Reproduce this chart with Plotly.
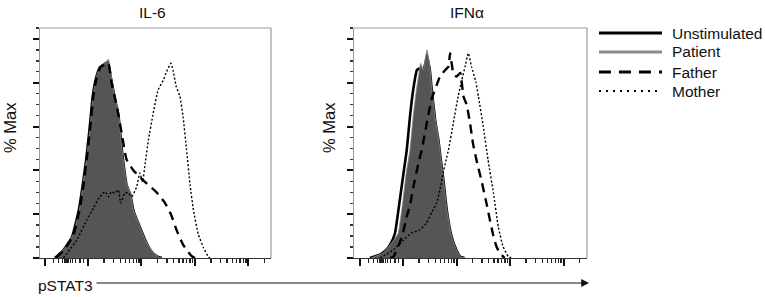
import math
import plotly.graph_objects as go

# ---------------- data (x: pSTAT3 in log10 display units, y: % Max) ----------------
il6_unstim_x = [1.38, 1.52, 1.70, 1.83, 1.90, 1.97, 2.03, 2.09, 2.15, 2.22, 2.31, 2.37, 2.43, 2.50, 2.57, 2.63, 2.72, 2.79, 2.85, 2.97, 3.10, 3.22, 3.31, 3.38]
il6_unstim_y = [0, 3.0, 9.5, 22, 33, 45.5, 59, 74, 82, 87, 88.5, 89.5, 82, 73, 65, 50, 33.5, 29, 21.5, 14, 6.5, 2, 0.5, 0]

il6_patient_x = [1.38, 1.54, 1.72, 1.85, 1.91, 1.98, 2.04, 2.10, 2.16, 2.22, 2.32, 2.38, 2.44, 2.50, 2.57, 2.63, 2.72, 2.79, 2.85, 2.97, 3.10, 3.22, 3.31, 3.38]
il6_patient_y = [0, 3.7, 10.5, 23.4, 34.2, 46.3, 60, 75.2, 82.8, 87.4, 88.9, 90.7, 82.8, 73.7, 66.2, 50.8, 34.2, 29.7, 21.9, 14.3, 6.8, 2.3, 0.6, 0]

il6_father_x = [1.40, 1.55, 1.73, 1.85, 1.92, 1.98, 2.04, 2.10, 2.16, 2.23, 2.32, 2.38, 2.44, 2.54, 2.63, 2.72, 2.85, 2.97, 3.10, 3.28, 3.43, 3.55, 3.66, 3.78, 3.85, 3.94, 4.00]
il6_father_y = [0, 3.5, 10.5, 23, 34, 46, 59, 74, 82, 87, 88.5, 89, 80, 69, 57, 45, 40, 37, 34, 30, 25.5, 20, 12.5, 6, 3.5, 0.8, 0]

il6_mother_x = [1.54, 1.79, 1.98, 2.10, 2.22, 2.32, 2.38, 2.44, 2.50, 2.57, 2.61, 2.69, 2.75, 2.82, 2.91, 2.97, 3.02, 3.07, 3.13, 3.22, 3.31, 3.41, 3.47, 3.55, 3.59, 3.65, 3.72, 3.78, 3.84, 3.91, 3.97, 4.06, 4.16, 4.25, 4.28]
il6_mother_y = [0, 8.2, 17.4, 22.8, 27.9, 30.3, 28, 30.3, 29.7, 31.1, 25.1, 29.7, 29.7, 28, 32.6, 38.8, 34.8, 43.4, 53.9, 66.2, 76.7, 81.3, 85.1, 88.9, 85.8, 78.2, 73.7, 64, 50, 33, 22, 11, 4.6, 0.6, 0]

ifn_unstim_x = [1.38, 1.57, 1.70, 1.78, 1.85, 1.94, 2.01, 2.07, 2.13, 2.19, 2.26, 2.30, 2.36, 2.41, 2.45, 2.50, 2.54, 2.60, 2.66, 2.69, 2.75, 2.82, 2.91, 3.00, 3.07, 3.15]
ifn_unstim_y = [0, 1.5, 4, 7, 11.3, 26.5, 38.8, 49.3, 64.5, 76.7, 85.8, 86.5, 84, 88, 92, 86, 76, 63, 54, 48, 36.5, 21.5, 9.5, 3.5, 0.5, 0]

ifn_patient_x = [1.40, 1.63, 1.76, 1.85, 1.91, 2.00, 2.06, 2.13, 2.19, 2.25, 2.31, 2.33, 2.38, 2.41, 2.45, 2.50, 2.54, 2.60, 2.66, 2.69, 2.75, 2.82, 2.91, 3.00, 3.07, 3.15]
ifn_patient_y = [0, 2.3, 6, 9, 11.3, 26.5, 38.8, 49.3, 64.5, 76.7, 86, 88.9, 85.8, 90.4, 95, 87.4, 76.7, 64, 55, 49, 37, 22, 9.7, 3.7, 0.6, 0]

ifn_father_x = [1.76, 1.82, 1.98, 2.07, 2.13, 2.19, 2.29, 2.35, 2.41, 2.47, 2.54, 2.63, 2.69, 2.79, 2.85, 2.88, 2.94, 3.00, 3.07, 3.13, 3.19, 3.25, 3.31, 3.38, 3.47, 3.56, 3.61, 3.69, 3.75, 3.82, 3.90]
ifn_father_y = [0, 0.5, 9.7, 18.9, 24, 32, 43.4, 49.3, 57, 65, 73, 79, 82.8, 85.8, 87.4, 93.5, 84.5, 82.8, 84.5, 73.7, 70, 62, 52, 44, 35, 25, 19, 10, 5, 2, 0]

ifn_mother_x = [1.57, 1.82, 2.01, 2.16, 2.32, 2.44, 2.54, 2.63, 2.69, 2.75, 2.82, 2.85, 2.94, 3.03, 3.10, 3.16, 3.22, 3.28, 3.36, 3.41, 3.50, 3.59, 3.69, 3.78, 3.87, 3.97, 4.04]
ifn_mother_y = [0, 3.7, 8.2, 11.4, 12.8, 16, 21.1, 25.1, 31.1, 38.8, 46.3, 49.3, 61.6, 73.7, 81.3, 87.4, 93.5, 87.4, 80.5, 73.7, 60, 44.7, 29.7, 14.3, 5.2, 0.6, 0]

panel_titles = ["IL-6", "IFNα"]
series_names = ["Unstimulated", "Patient", "Father", "Mother"]
y_title = "% Max"
x_title = "pSTAT3"

# ---------------- figure ----------------
W, H = 765, 297
FONT = "Liberation Sans, Arial, sans-serif"
FILL = "#555555"
PATIENT_LINE = "#8c8c8c"

fig = go.Figure()

panels = [
    ("x", "y", il6_unstim_x, il6_unstim_y, il6_patient_x, il6_patient_y,
     il6_father_x, il6_father_y, il6_mother_x, il6_mother_y),
    ("x2", "y2", ifn_unstim_x, ifn_unstim_y, ifn_patient_x, ifn_patient_y,
     ifn_father_x, ifn_father_y, ifn_mother_x, ifn_mother_y),
]
for i, (xa, ya, ux, uy, px, py, fx, fy, mx, my) in enumerate(panels):
    fig.add_trace(go.Scatter(x=ux, y=uy, xaxis=xa, yaxis=ya, mode="lines",
                             line=dict(color="black", width=2.6, shape="spline", smoothing=0.4),
                             name=series_names[0], showlegend=False))
    fig.add_trace(go.Scatter(x=px, y=py, xaxis=xa, yaxis=ya, mode="lines", fill="tozeroy",
                             fillcolor=FILL,
                             line=dict(color=PATIENT_LINE, width=0.8, shape="spline", smoothing=0.4),
                             name=series_names[1], showlegend=False))
    fig.add_trace(go.Scatter(x=fx, y=fy, xaxis=xa, yaxis=ya, mode="lines",
                             line=dict(color="black", width=2.4, dash="9px,6px", shape="spline", smoothing=0.4),
                             name=series_names[2], showlegend=False))
    fig.add_trace(go.Scatter(x=mx, y=my, xaxis=xa, yaxis=ya, mode="lines",
                             line=dict(color="black", width=1.4, dash="2px,2px", shape="spline", smoothing=0.4),
                             name=series_names[3], showlegend=False))

# axis geometry (pixels)
top_px, bot_px = 28, 258
p1 = (40, 271)
p2 = (354, 587)

def px_to_paper_x(px):
    return px / W

def px_to_paper_y(py):
    return (H - py) / H

x_major = [1.2, 2, 3, 4, 5]
x_minor = [1.35, 1.45, 1.52, 1.57, 1.61, 1.64, 1.67, 1.71, 1.77, 1.85, 1.92]
for d in (2, 3, 4, 5):
    for k in range(2, 10):
        x_minor.append(d + math.log10(k))

xcommon = dict(showgrid=False, zeroline=False, showticklabels=False,
               ticks="outside", tickvals=x_major, ticklen=7, tickwidth=2, tickcolor="#111",
               minor=dict(ticks="outside", tickmode="array", tickvals=x_minor, ticklen=3.5,
                          tickwidth=1.4, tickcolor="#222", showgrid=False),
               showline=True, linecolor="#333", linewidth=1, mirror=False, fixedrange=True)
ycommon = dict(showgrid=False, zeroline=False, showticklabels=False, range=[0, 105],
               ticks="outside", tickvals=[0, 20, 40, 60, 80, 100], ticklen=6, tickwidth=2,
               tickcolor="#111",
               minor=dict(ticks="outside", dtick=5, tick0=0, ticklen=3, tickwidth=1.3,
                          tickcolor="#333", showgrid=False),
               showline=True, linecolor="#9a9a9a", linewidth=1.2, mirror=False, fixedrange=True)

ydom = [px_to_paper_y(bot_px), px_to_paper_y(top_px)]
fig.update_layout(
    xaxis=dict(xcommon, domain=[px_to_paper_x(p1[0]), px_to_paper_x(p1[1])],
               range=[1.103, 5.421], anchor="y"),
    xaxis2=dict(xcommon, domain=[px_to_paper_x(p2[0]), px_to_paper_x(p2[1])],
                range=[1.084, 5.439], anchor="y2"),
    yaxis=dict(ycommon, domain=ydom, anchor="x"),
    yaxis2=dict(ycommon, domain=ydom, anchor="x2"),
)

shapes = []
# gray frame (top and right borders)
for xr, yr in (("x domain", "y domain"), ("x2 domain", "y2 domain")):
    shapes.append(dict(type="line", xref=xr, yref=yr, x0=0, x1=1, y0=1, y1=1,
                       line=dict(color="#9a9a9a", width=1.2), layer="above"))
    shapes.append(dict(type="line", xref=xr, yref=yr, x0=1, x1=1, y0=0, y1=1,
                       line=dict(color="#9a9a9a", width=1.2), layer="above"))

# legend samples
leg_rows = [33, 52, 72, 91]
leg_styles = [dict(color="black", width=3),
              dict(color="#8c8c8c", width=3),
              dict(color="black", width=3, dash="12px,8px"),
              dict(color="black", width=2, dash="2px,5px")]
for row, st in zip(leg_rows, leg_styles):
    shapes.append(dict(type="line", xref="paper", yref="paper",
                       x0=px_to_paper_x(599), x1=px_to_paper_x(662),
                       y0=px_to_paper_y(row), y1=px_to_paper_y(row), line=st))

annotations = []
for name, row in zip(series_names, leg_rows):
    annotations.append(dict(text=name, xref="paper", yref="paper", x=px_to_paper_x(670),
                            y=px_to_paper_y(row), xanchor="left", yanchor="middle",
                            showarrow=False, font=dict(size=15.5, color="#111", family=FONT)))

# panel titles
for t, cx in zip(panel_titles, (152, 467)):
    annotations.append(dict(text=t, xref="paper", yref="paper", x=px_to_paper_x(cx),
                            y=px_to_paper_y(12), xanchor="center", yanchor="middle",
                            showarrow=False, font=dict(size=15.5, color="#111", family=FONT)))
# y titles
for cx in (10, 329):
    annotations.append(dict(text=y_title, xref="paper", yref="paper", x=px_to_paper_x(cx),
                            y=px_to_paper_y(128), xanchor="center", yanchor="middle",
                            textangle=-90, showarrow=False,
                            font=dict(size=16.5, color="#111", family=FONT)))
# x title with arrow
annotations.append(dict(text=x_title, xref="paper", yref="paper", x=px_to_paper_x(36),
                        y=px_to_paper_y(285), xanchor="left", yanchor="middle",
                        showarrow=False, font=dict(size=15.5, color="#111", family=FONT)))
annotations.append(dict(text="", xref="paper", yref="paper", x=px_to_paper_x(589),
                        y=px_to_paper_y(283), ax=-494, ay=0, axref="pixel", ayref="pixel",
                        showarrow=True, arrowhead=2, arrowsize=1.3, arrowwidth=1.2,
                        arrowcolor="#111"))

fig.update_layout(
    width=W, height=H, margin=dict(l=0, r=0, t=0, b=0),
    paper_bgcolor="white", plot_bgcolor="rgba(0,0,0,0)",
    showlegend=False, shapes=shapes, annotations=annotations,
    font=dict(family=FONT, color="#111"),
)

fig.write_html("out.html", config={"displayModeBar": False, "staticPlot": True})

# remove the browser's default page margin so the figure sits at the window origin
with open("out.html", "r", encoding="utf-8") as f:
    html = f.read()
html = html.replace("<head>", "<head><style>html,body{margin:0;padding:0;overflow:hidden;}</style>", 1)
with open("out.html", "w", encoding="utf-8") as f:
    f.write(html)
